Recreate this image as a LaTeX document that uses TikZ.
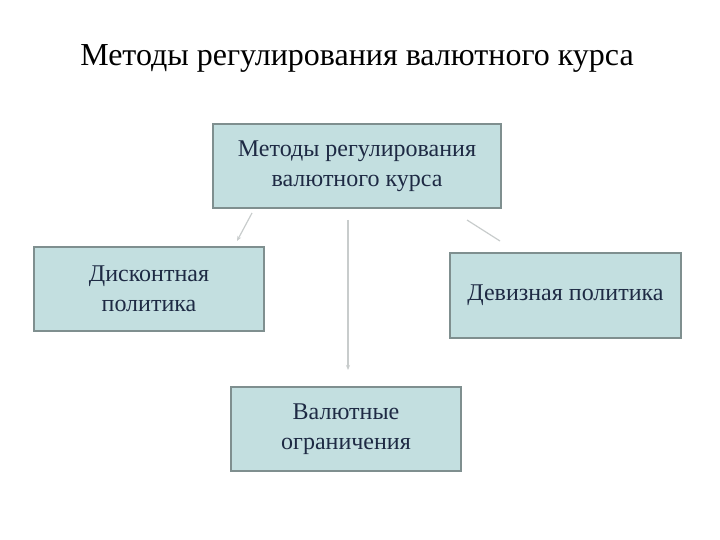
\documentclass[tikz,border=0pt]{standalone}
\usepackage{fontspec}
\setmainfont{Liberation Serif}
\usetikzlibrary{arrows.meta}
\definecolor{boxfill}{HTML}{C3DFE0}
\definecolor{boxdraw}{HTML}{7F8F8F}
\definecolor{txt}{HTML}{1E2A44}
\definecolor{conn}{HTML}{C8CCCC}
\tikzset{x=1pt,y=-1pt,
 bx/.style={draw=boxdraw,line width=1.5pt,fill=boxfill,text=txt,align=center,font=\fontsize{24}{30}\selectfont,inner sep=0pt},
 cn/.style={draw=conn,line width=1.2pt,-{Stealth[length=5pt,width=4pt]}}}
\begin{document}
\begin{tikzpicture}
\useasboundingbox (0,0) rectangle (720,540);
\node[font=\fontsize{32}{36}\selectfont] (title) at (357,58) {Методы регулирования валютного курса};
\node[bx,minimum width=288,minimum height=84] (top) at (357,166) {Методы регулирования\\валютного курса};
\node[bx,minimum width=230,minimum height=84] (left) at (149,289) {Дисконтная\\политика};
\node[bx,minimum width=231,minimum height=85] (right) at (565.5,295.5) {Девизная политика};
\node[bx,minimum width=230,minimum height=84] (bot) at (346,429) {Валютные\\ограничения};
\coordinate (a1) at (252,213); \coordinate (a2) at (237,241);
\coordinate (b1) at (348,220); \coordinate (b2) at (348,370);
\coordinate (c1) at (467,220); \coordinate (c2) at (500,241);
\draw[cn] (a1) -- (a2);
\draw[cn] (b1) -- (b2);
\draw[draw=conn,line width=1.2pt] (c1) -- (c2);
\end{tikzpicture}
\end{document}
